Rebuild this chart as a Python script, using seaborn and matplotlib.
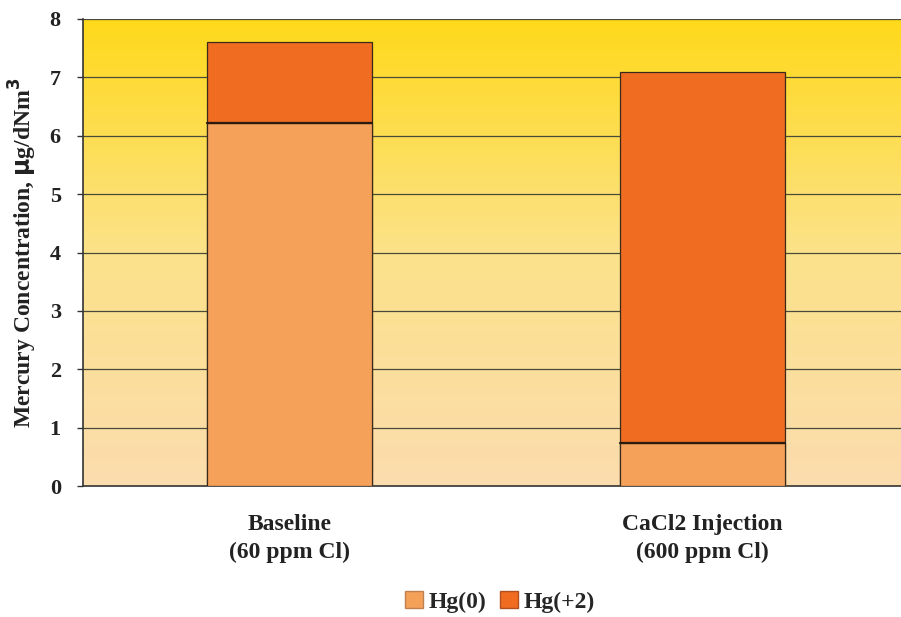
import numpy as np
import pandas as pd
import matplotlib
matplotlib.use("Agg")
import matplotlib.pyplot as plt
import seaborn as sns
from matplotlib.colors import LinearSegmentedColormap
from matplotlib.patches import Patch

categories = ["Baseline\n(60 ppm Cl)", "CaCl2 Injection\n(600 ppm Cl)"]
hg0 = [6.22, 0.73]
hg2 = [1.38, 6.37]
series_names = ["Hg(0)", "Hg(+2)"]
yticks = [0, 1, 2, 3, 4, 5, 6, 7, 8]

c_hg0 = "#F5A15A"
c_hg2 = "#EF6C21"

sns.set_theme(style="white")
plt.rcParams["font.family"] = ["Liberation Serif", "DejaVu Serif"]
plt.rcParams["font.weight"] = "bold"

df = pd.DataFrame({"cat": categories, "hg0": hg0, "hg2": hg2})
df["total"] = df["hg0"] + df["hg2"]

fig = plt.figure(figsize=(9.01, 6.17), dpi=100)
ax = fig.add_axes([83 / 901, 1 - 486 / 617, 1 - 83 / 901, (486 - 19) / 617])

# gradient background
cmap = LinearSegmentedColormap.from_list("bg", ["#FBDCAE", "#FCE28A", "#FFD91A"])
grad = np.linspace(0, 1, 256).reshape(-1, 1)
ax.imshow(grad, aspect="auto", cmap=cmap, origin="lower",
          extent=(-0.5, 1.48, 0, 8), zorder=0)

for y in yticks[1:]:
    ax.axhline(y, color="#4a4a3a", lw=0.9, zorder=1)

sns.barplot(data=df, x="cat", y="total", color=c_hg2, saturation=1,
            width=0.4, edgecolor="#3a2a1a", linewidth=0.9, ax=ax, zorder=2)
sns.barplot(data=df, x="cat", y="hg0", color=c_hg0, saturation=1,
            width=0.4, edgecolor="#3a2a1a", linewidth=0.9, ax=ax, zorder=3)
# darker separation line
for p in ax.patches[len(categories):]:
    x0 = p.get_x()
    ax.plot([x0, x0 + p.get_width()], [p.get_height()] * 2, color="#2a1a10", lw=1.6, zorder=4)

ax.set_xlim(-0.5, 1.48)
ax.set_ylim(0, 8)
ax.set_yticks(yticks)
ax.set_yticklabels([str(t) for t in yticks], fontsize=16, fontweight="bold", color="#222222")
ax.set_xticks(range(len(categories)))
ax.set_xticklabels(categories, fontsize=17, fontweight="bold", color="#222222", linespacing=1.45)
ax.tick_params(axis="x", length=0, pad=20)
ax.tick_params(axis="y", length=4, width=1, color="#333333", left=True, pad=12, direction="out")
ax.set_xlabel("")
ax.set_ylabel(r"Mercury Concentration, $\mathbf{\mu}$g/dNm$^3$", fontsize=17,
              fontweight="bold", color="#222222")
ax.yaxis.set_label_coords(-0.054, 0.5)

for s in ["top", "right"]:
    ax.spines[s].set_visible(False)
for s in ["left", "bottom"]:
    ax.spines[s].set_color("#333333")
    ax.spines[s].set_linewidth(1.2)

handles = [Patch(facecolor=c_hg0, edgecolor="#c08050", label=series_names[0]),
           Patch(facecolor=c_hg2, edgecolor="#b05020", label=series_names[1])]
fig.legend(handles=handles, loc="lower center", bbox_to_anchor=(0.555, -0.028), ncol=2,
           frameon=False, prop={"family": "Liberation Serif", "weight": "bold", "size": 17},
           handlelength=0.75, handleheight=0.75, handletextpad=0.25, columnspacing=0.6)

fig.savefig("out.png", dpi=100, facecolor="white")
